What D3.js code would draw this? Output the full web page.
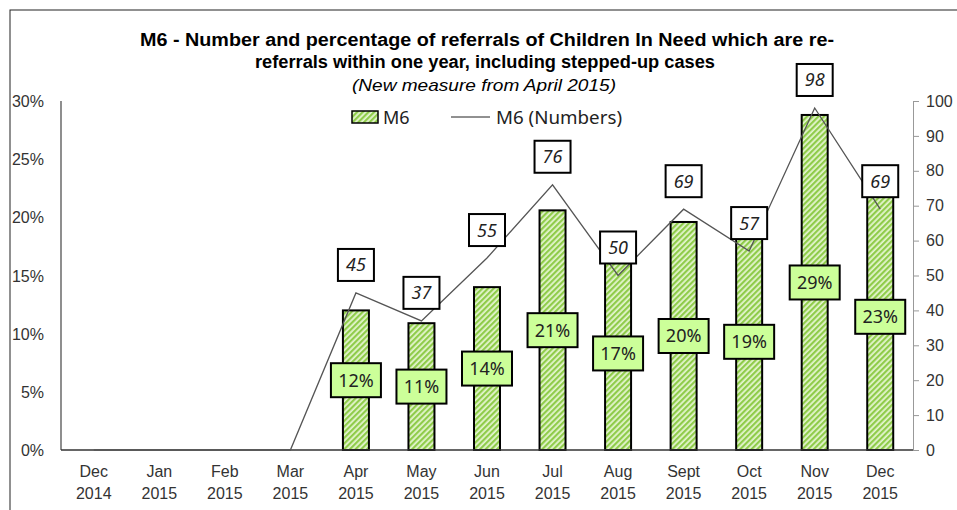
<!DOCTYPE html>
<html lang="en">
<head>
  <meta charset="UTF-8">
  <title>M6 re-referrals</title>
  <script src="https://d3js.org/d3.v7.min.js"></script>
  <style>
    body { margin: 0; background: #fff; }
    .tick-label { font: 16px "Liberation Sans", Arial, sans-serif; fill: #333; }
    .title { font-family: "Liberation Sans Narrow", "Liberation Sans", Arial, sans-serif; font-weight: bold; font-size: 18px; fill: #000; }
    .box-text { font-family: "Noto Sans", "Open Sans", sans-serif; font-size: 18px; fill: #222; }
  </style>
</head>
<body>
  <svg width="957" height="510"></svg>

  <script>
    const months = ["Dec", "Jan", "Feb", "Mar", "Apr", "May", "Jun", "Jul", "Aug", "Sept", "Oct", "Nov", "Dec"];
    const years = ["2014", "2015", "2015", "2015", "2015", "2015", "2015", "2015", "2015", "2015", "2015", "2015", "2015"];
    // percentage of re-referrals (bars), null = no data
    const pct = [null, null, null, null, 12.0, 10.9, 14.0, 20.6, 16.6, 19.6, 18.6, 28.8, 22.9];
    // number of re-referrals (line)
    const counts = [0, 0, 0, 0, 45, 37, 55, 76, 50, 69, 57, 98, 69];
    const pctTicks = [0, 5, 10, 15, 20, 25, 30];
    const countTicks = [0, 10, 20, 30, 40, 50, 60, 70, 80, 90, 100];

    const plotL = 61, plotR = 913, plotT = 101, plotB = 450;
    const svg = d3.select("svg");

    const defs = svg.append("defs");
    const pat = defs.append("pattern")
      .attr("id", "stripes")
      .attr("patternUnits", "userSpaceOnUse")
      .attr("width", 4).attr("height", 4)
      .attr("patternTransform", "rotate(45)");
    pat.append("rect").attr("width", 4).attr("height", 4).attr("fill", "#e4f5cf");
    pat.append("rect").attr("width", 2.2).attr("height", 4).attr("fill", "#8fcc4a");

    // outer frame (cropped)
    svg.append("rect")
      .attr("x", 10).attr("y", 10).attr("width", 960).attr("height", 520)
      .attr("fill", "none").attr("stroke", "#222").attr("stroke-width", 1);

    const x = d3.scaleBand().domain(d3.range(months.length)).range([plotL, plotR]);
    const yP = d3.scaleLinear().domain([0, 30]).range([plotB, plotT]);
    const yN = d3.scaleLinear().domain([0, 100]).range([plotB, plotT]);
    const cx = i => x(i) + x.bandwidth() / 2;

    // title
    const title = svg.append("g");
    title.append("text").attr("class", "title").attr("x", 487).attr("y", 46)
      .attr("text-anchor", "middle")
      .attr("textLength", 694).attr("lengthAdjust", "spacingAndGlyphs")
      .text("M6 - Number and percentage of referrals of Children In Need which are re-");
    title.append("text").attr("class", "title").attr("x", 485).attr("y", 68)
      .attr("text-anchor", "middle")
      .attr("textLength", 460).attr("lengthAdjust", "spacingAndGlyphs")
      .text("referrals within one year, including stepped-up cases");
    title.append("text").attr("x", 484).attr("y", 91)
      .attr("text-anchor", "middle")
      .attr("font-family", "'Liberation Sans Narrow', 'Liberation Sans', Arial, sans-serif")
      .attr("font-style", "italic").attr("font-size", 17)
      .attr("textLength", 264).attr("lengthAdjust", "spacingAndGlyphs")
      .text("(New measure from April 2015)");

    // left axis
    const gl = svg.append("g");
    gl.append("line").attr("x1", plotL).attr("x2", plotL).attr("y1", plotT).attr("y2", plotB)
      .attr("stroke", "#444").attr("stroke-width", 1.2);
    gl.selectAll("text").data(pctTicks).join("text")
      .attr("class", "tick-label")
      .attr("x", 44).attr("y", d => yP(d) + 6)
      .attr("text-anchor", "end")
      .text(d => d + "%");

    // right axis
    const gr = svg.append("g").attr("transform", `translate(${plotR},0)`)
      .call(d3.axisRight(yN).tickValues(countTicks).tickSize(6).tickPadding(7));
    gr.attr("font-size", null).attr("font-family", null);
    gr.select(".domain").attr("stroke", "#999");
    gr.selectAll(".tick line").attr("stroke", "#999");
    gr.selectAll(".tick text").attr("class", "tick-label").attr("fill", null);

    // x labels
    const gx = svg.append("g");
    gx.selectAll("text.m").data(months).join("text").attr("class", "tick-label m")
      .attr("x", (d, i) => cx(i)).attr("y", 477).attr("text-anchor", "middle").text(d => d);
    gx.selectAll("text.yr").data(years).join("text").attr("class", "tick-label yr")
      .attr("x", (d, i) => cx(i)).attr("y", 499).attr("text-anchor", "middle").text(d => d);

    // bars
    const barW = 26;
    const barData = pct.map((v, i) => ({ v, i })).filter(d => d.v !== null);
    svg.append("g").selectAll("rect").data(barData).join("rect")
      .attr("x", d => cx(d.i) - barW / 2)
      .attr("y", d => yP(d.v))
      .attr("width", barW)
      .attr("height", d => plotB - yP(d.v))
      .attr("fill", "url(#stripes)")
      .attr("stroke", "#000").attr("stroke-width", 2);

    // bottom axis line
    svg.append("line").attr("x1", plotL).attr("x2", plotR).attr("y1", plotB).attr("y2", plotB)
      .attr("stroke", "#333").attr("stroke-width", 1.5);

    // line series
    const lineGen = d3.line().x((d, i) => cx(i)).y(d => yN(d));
    svg.append("path").datum(counts)
      .attr("d", lineGen)
      .attr("fill", "none").attr("stroke", "#555").attr("stroke-width", 1.3);

    // percent labels (centre of bar)
    const pl = svg.append("g").selectAll("g").data(barData).join("g")
      .attr("transform", d => `translate(${cx(d.i)},${(yP(d.v) + plotB) / 2})`);
    pl.append("rect").attr("x", -25).attr("y", -17).attr("width", 50).attr("height", 34)
      .attr("fill", "#ccff99").attr("stroke", "#000").attr("stroke-width", 2);
    pl.append("text").attr("class", "box-text").attr("text-anchor", "middle").attr("y", 6.5)
      .text(d => d3.format(".0f")(d.v) + "%");

    // number labels (above point)
    const numData = counts.map((v, i) => ({ v, i })).filter(d => d.v > 0);
    const nl = svg.append("g").selectAll("g").data(numData).join("g")
      .attr("transform", d => `translate(${cx(d.i)},${yN(d.v) - 28})`);
    nl.append("rect").attr("x", -18).attr("y", -16).attr("width", 36).attr("height", 32)
      .attr("fill", "#fff").attr("stroke", "#000").attr("stroke-width", 2);
    nl.append("text").attr("class", "box-text").attr("font-style", "italic")
      .attr("text-anchor", "middle").attr("y", 6.5)
      .text(d => d.v);

    // legend
    const lg = svg.append("g").attr("transform", "translate(0,117)");
    lg.append("rect").attr("x", 352).attr("y", -6).attr("width", 26).attr("height", 12)
      .attr("fill", "url(#stripes)").attr("stroke", "#000").attr("stroke-width", 1.5);
    lg.append("text").attr("class", "box-text").attr("x", 383).attr("y", 6.5).text("M6");
    lg.append("line").attr("x1", 451).attr("x2", 490).attr("y1", 0).attr("y2", 0)
      .attr("stroke", "#222").attr("stroke-width", 1);
    lg.append("text").attr("class", "box-text").attr("x", 496).attr("y", 6.5)
      .attr("textLength", 126).attr("lengthAdjust", "spacingAndGlyphs").text("M6 (Numbers)");
  </script>
</body>
</html>
